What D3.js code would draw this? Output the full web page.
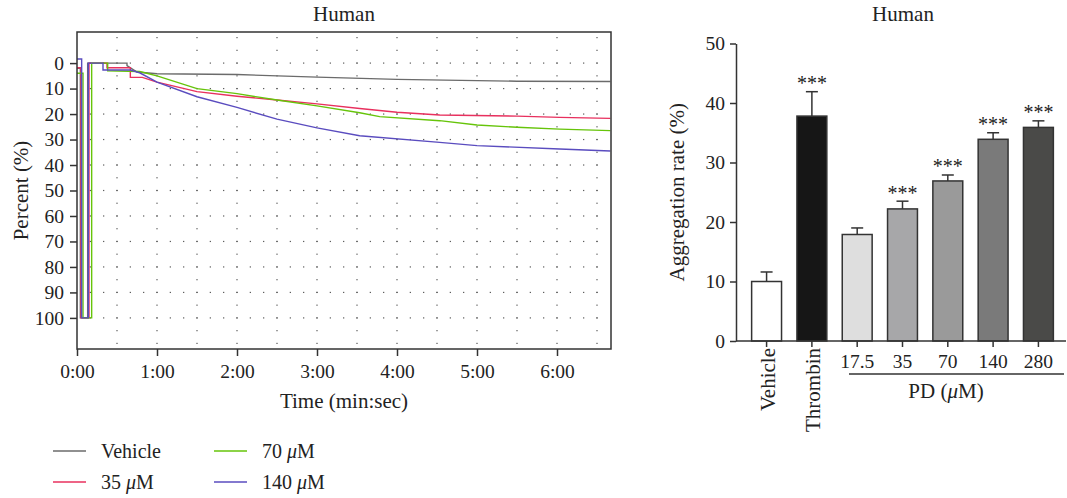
<!DOCTYPE html>
<html>
<head>
<meta charset="utf-8">
<script src="https://d3js.org/d3.v7.min.js"></script>
<style>
  body { margin: 0; background: #fff; }
  text { font-family: "Liberation Serif", "DejaVu Serif", serif; fill: #222; }
</style>
</head>
<body>
<div id="viz"></div>
<script>
// aggregation traces, [time in seconds, percent]
var vehicle = [[0,2],[2.5,2],[2.5,100],[8,100],[8,0],[37.5,0],[37.5,1],[45,3.5],[60,4.2],[120,4.5],[180,5.5],[240,6.4],[300,6.9],[330,7.1],[400,7.2]];
var pd35 = [[0,1.8],[3,1.8],[3,100],[9,100],[9,0],[22.5,0],[22.5,1.8],[40,1.8],[40,5.6],[49,5.6],[60,7.5],[90,11.2],[120,13],[150,14.5],[180,16],[212,17.8],[240,19.3],[272,20.4],[330,20.8],[362,21.3],[400,21.7]];
var pd70 = [[0,4],[4.5,4],[4.5,100],[11,100],[11,0],[23,0],[23,3],[47,3.3],[60,5],[90,10],[120,12],[150,14.5],[180,16.8],[212,19.5],[227,21],[272,22.6],[300,24.3],[330,25.2],[362,25.9],[400,26.5]];
var pd140 = [[0,-1.6],[3.5,-1.6],[3.5,100],[8.5,100],[8.5,0],[19.5,0],[19.5,2.7],[40,2.7],[47,3.8],[60,7.5],[90,13.2],[120,17.4],[150,22],[180,25.4],[212,28.5],[272,31.1],[300,32.4],[362,33.7],[400,34.5]];

var traceNames = ["Vehicle", "35", "70", "140"];
var traceColors = ["#6b6b6b", "#e8305e", "#66c40a", "#5a4cbf"];
var percentTicks = [0,10,20,30,40,50,60,70,80,90,100];
var timeTicks = [0,60,120,180,240,300,360];

// bar chart
var barLabels = ["Vehicle","Thrombin","17.5","35","70","140","280"];
var barValues = [10, 37.8, 17.9, 22.2, 26.9, 33.9, 35.9];
var barErrors = [1.6, 4.1, 1.1, 1.3, 1.0, 1.1, 1.1];
var barStars = ["", "***", "", "***", "***", "***", "***"];
var barFills = ["#ffffff","#161616","#dedede","#a7a7a9","#9a9a9a","#7a7a7a","#4a4a48"];
var rateTicks = [0,10,20,30,40,50];

var W = 1067, H = 498;
var numSize = "19.5px", wordSize = "21px";
var svg = d3.select("#viz").append("svg").attr("width", W).attr("height", H);

// ---------- left: traces ----------
var L = {left: 77, right: 611, top: 32, bottom: 349};
var x = d3.scaleLinear().domain([0, 400.5]).range([L.left, L.right]);
var y = d3.scaleLinear().domain([-12.2, 112.2]).range([L.top, L.bottom]);

// dotted grid
var dots = svg.append("g").attr("fill", "#555");
percentTicks.forEach(function(v) {
  d3.range(10, 400, 10).forEach(function(t) {
    dots.append("rect").attr("x", x(t) - 0.6).attr("y", y(v) - 0.6).attr("width", 1.2).attr("height", 1.2);
  });
});
d3.range(30, 400, 30).forEach(function(t) {
  d3.range(-10, 112, 5).forEach(function(v) {
    dots.append("rect").attr("x", x(t) - 0.6).attr("y", y(v) - 0.6).attr("width", 1.2).attr("height", 1.2);
  });
});

svg.append("clipPath").attr("id", "clipL").append("rect")
  .attr("x", L.left).attr("y", L.top).attr("width", L.right - L.left).attr("height", L.bottom - L.top);

var line = d3.line().x(function(d) { return x(d[0]); }).y(function(d) { return y(d[1]); });
var traces = [vehicle, pd35, pd70, pd140];
svg.append("g").attr("clip-path", "url(#clipL)")
  .selectAll("path").data(traces).join("path")
  .attr("d", line)
  .attr("fill", "none")
  .attr("stroke", function(d, i) { return traceColors[i]; })
  .attr("stroke-width", 1.4);

svg.append("rect")
  .attr("x", L.left).attr("y", L.top).attr("width", L.right - L.left).attr("height", L.bottom - L.top)
  .attr("fill", "none").attr("stroke", "#333").attr("stroke-width", 1.5);

var yAxL = svg.append("g").attr("transform", "translate(" + L.left + ",0)")
  .call(d3.axisLeft(y).tickValues(percentTicks).tickSize(7).tickPadding(6));
var xAxL = svg.append("g").attr("transform", "translate(0," + L.bottom + ")")
  .call(d3.axisBottom(x).tickValues(timeTicks).tickSize(7).tickPadding(8)
    .tickFormat(function(d) { return Math.floor(d / 60) + ":00"; }));
[yAxL, xAxL].forEach(function(a) {
  a.select(".domain").remove();
  a.selectAll(".tick line").attr("stroke", "#333").attr("stroke-width", 1.5);
  a.selectAll(".tick text").style("font-family", "Liberation Serif").style("font-size", numSize).attr("fill", "#222");
});

svg.append("text").attr("x", (L.left + L.right) / 2).attr("y", 21)
  .attr("text-anchor", "middle").style("font-size", wordSize).text("Human");
svg.append("text").attr("x", (L.left + L.right) / 2).attr("y", 408)
  .attr("text-anchor", "middle").style("font-size", wordSize).text("Time (min:sec)");
svg.append("text").attr("transform", "translate(28," + (L.top + L.bottom) / 2 + ") rotate(-90)")
  .attr("text-anchor", "middle").style("font-size", wordSize).text("Percent (%)");

// legend
var legPos = [[53, 451], [53, 482], [214, 451], [214, 482]];
traceNames.forEach(function(name, i) {
  var p = legPos[i];
  svg.append("line").attr("x1", p[0]).attr("x2", p[0] + 33).attr("y1", p[1]).attr("y2", p[1])
    .attr("stroke", traceColors[i]).attr("stroke-width", 1.4);
  var t = svg.append("text").attr("x", p[0] + 48).attr("y", p[1] + 7).style("font-size", "20px");
  if (i === 0) t.text(name);
  else {
    t.append("tspan").text(name + " ");
    t.append("tspan").style("font-style", "italic").text("\u03bc");
    t.append("tspan").text("M");
  }
});

// ---------- right: bars ----------
var R = {left: 736, right: 1069, top: 43.5, bottom: 341};
var xb = d3.scaleBand().domain(barLabels).range([R.left, R.right]).paddingInner(0.34).paddingOuter(0.345);
var yb = d3.scaleLinear().domain([0, 50]).range([R.bottom, R.top]);

var yAxR = svg.append("g").attr("transform", "translate(" + R.left + ",0)")
  .call(d3.axisLeft(yb).tickValues(rateTicks).tickSize(6).tickSizeOuter(0).tickPadding(5));
yAxR.select(".domain").attr("stroke", "#333").attr("stroke-width", 1.5);
yAxR.selectAll(".tick line").attr("stroke", "#333").attr("stroke-width", 1.5);
yAxR.selectAll(".tick text").style("font-family", "Liberation Serif").style("font-size", numSize).attr("fill", "#222");

// error bars
var eb = svg.append("g").attr("stroke", "#333").attr("stroke-width", 1.5);
barLabels.forEach(function(c, i) {
  var cx = xb(c) + xb.bandwidth() / 2;
  eb.append("line").attr("x1", cx).attr("x2", cx).attr("y1", yb(barValues[i])).attr("y2", yb(barValues[i] + barErrors[i]));
  eb.append("line").attr("x1", cx - 6).attr("x2", cx + 6).attr("y1", yb(barValues[i] + barErrors[i])).attr("y2", yb(barValues[i] + barErrors[i]));
});

svg.append("g").selectAll("rect").data(barLabels).join("rect")
  .attr("x", function(d) { return xb(d); })
  .attr("width", xb.bandwidth())
  .attr("y", function(d, i) { return yb(barValues[i]); })
  .attr("height", function(d, i) { return R.bottom - yb(barValues[i]); })
  .attr("fill", function(d, i) { return barFills[i]; })
  .attr("stroke", "#333").attr("stroke-width", 1.5);

svg.append("g").selectAll("text").data(barLabels).join("text")
  .attr("x", function(d) { return xb(d) + xb.bandwidth() / 2; })
  .attr("y", function(d, i) { return yb(barValues[i] + barErrors[i]) - 1.5; })
  .attr("text-anchor", "middle").style("font-size", "20px").attr("fill", "#555")
  .text(function(d, i) { return barStars[i]; });

// x axis of bars
svg.append("line").attr("x1", R.left).attr("x2", 1066).attr("y1", R.bottom).attr("y2", R.bottom)
  .attr("stroke", "#333").attr("stroke-width", 1.5);
var xt = svg.append("g");
barLabels.forEach(function(c, i) {
  var cx = xb(c) + xb.bandwidth() / 2;
  xt.append("line").attr("x1", cx).attr("x2", cx).attr("y1", R.bottom).attr("y2", R.bottom + 6)
    .attr("stroke", "#333").attr("stroke-width", 1.5);
  if (i < 2) {
    xt.append("text").attr("transform", "translate(" + (cx + 8) + "," + (R.bottom + 7) + ") rotate(-90)")
      .attr("text-anchor", "end").style("font-size", wordSize).text(c);
  } else {
    xt.append("text").attr("x", cx).attr("y", R.bottom + 27)
      .attr("text-anchor", "middle").style("font-size", numSize).text(c);
  }
});
svg.append("line").attr("x1", 849).attr("x2", 1064).attr("y1", 374).attr("y2", 374)
  .attr("stroke", "#333").attr("stroke-width", 1.5);
var pdl = svg.append("text").attr("x", 946).attr("y", 398).attr("text-anchor", "middle").style("font-size", wordSize);
pdl.append("tspan").text("PD (");
pdl.append("tspan").style("font-style", "italic").text("\u03bc");
pdl.append("tspan").text("M)");

svg.append("text").attr("x", 903).attr("y", 21).attr("text-anchor", "middle").style("font-size", wordSize).text("Human");
svg.append("text").attr("transform", "translate(684," + (R.top + R.bottom) / 2 + ") rotate(-90)")
  .attr("text-anchor", "middle").style("font-size", wordSize).text("Aggregation rate (%)");
</script>
</body>
</html>
